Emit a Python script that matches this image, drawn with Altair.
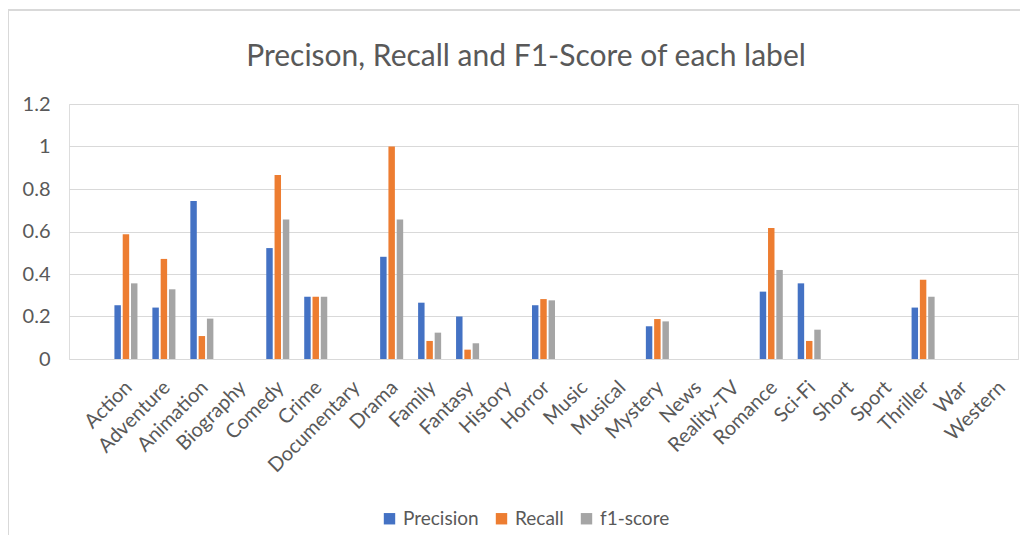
import altair as alt
import pandas as pd

categories = ["Action", "Adventure", "Animation", "Biography", "Comedy", "Crime",
              "Documentary", "Drama", "Family", "Fantasy", "History", "Horror",
              "Music", "Musical", "Mystery", "News", "Reality-TV", "Romance",
              "Sci-Fi", "Short", "Sport", "Thriller", "War", "Western"]
precision = [0.253, 0.242, 0.744, 0, 0.522, 0.293, 0, 0.481, 0.265, 0.200, 0, 0.253,
             0, 0, 0.154, 0, 0, 0.317, 0.356, 0, 0, 0.242, 0, 0]
recall = [0.587, 0.471, 0.108, 0, 0.866, 0.293, 0, 1.0, 0.085, 0.044, 0, 0.282,
          0, 0, 0.188, 0, 0, 0.616, 0.085, 0, 0, 0.373, 0, 0]
f1_score = [0.356, 0.328, 0.190, 0, 0.656, 0.293, 0, 0.656, 0.124, 0.074, 0, 0.276,
            0, 0, 0.177, 0, 0, 0.419, 0.138, 0, 0, 0.293, 0, 0]
series = ["Precision", "Recall", "f1-score"]
colors = ["#4472C4", "#ED7D31", "#A5A5A5"]
y_ticks = [0, 0.2, 0.4, 0.6, 0.8, 1.0, 1.2]
title_text = "Precison, Recall and F1-Score of each label"

rows = []
for name, vals in zip(series, [precision, recall, f1_score]):
    for c, v in zip(categories, vals):
        rows.append({"label": c, "metric": name, "value": v})
df = pd.DataFrame(rows)

FONT = "Lato"
TXT = "#595959"

bars = alt.Chart(df).mark_bar().encode(
    x=alt.X("label:N", sort=categories, title=None,
            scale=alt.Scale(paddingInner=0, paddingOuter=0.5, align=1),
            axis=alt.Axis(labelAngle=-45, labelFontSize=20, labelColor=TXT,
                          labelFont=FONT, ticks=False, domain=False,
                          labelPadding=18, labelOffset=-4, grid=False)),
    xOffset=alt.XOffset("metric:N", sort=series,
                        scale=alt.Scale(paddingInner=0.22, paddingOuter=0.9)),
    y=alt.Y("value:Q", title=None,
            scale=alt.Scale(domain=[0, 1.2], nice=False),
            axis=alt.Axis(values=y_ticks, format="~g", labelFontSize=20,
                          labelColor=TXT, labelFont=FONT, ticks=False,
                          domain=False, labelPadding=19, gridColor="#d9d9d9",
                          gridWidth=1.2)),
    color=alt.Color("metric:N", sort=series,
                    scale=alt.Scale(domain=series, range=colors),
                    legend=alt.Legend(title=None, orient="none", direction="horizontal",
                                      legendX=311, legendY=405, symbolType="square",
                                      symbolSize=130, labelFontSize=19, labelFont=FONT,
                                      labelColor=TXT, columnPadding=13, labelOffset=4,
                                      symbolStrokeWidth=0)),
)

frame = alt.Chart(alt.Data(values=[{"t": title_text}]))
top_rule = frame.mark_rule(color="#d9d9d9", strokeWidth=2).encode(
    x=alt.value(-61), x2=alt.value(960), y=alt.value(-94))
left_rule = frame.mark_rule(color="#d9d9d9", strokeWidth=2).encode(
    x=alt.value(-61), y=alt.value(-94), y2=alt.value(440))
title = frame.mark_text(fontSize=30, font=FONT, color=TXT, align="center",
                        baseline="middle").encode(
    text="t:N", x=alt.value(457), y=alt.value(-47))

chart = alt.layer(top_rule, left_rule, title, bars).properties(
    width=949, height=255,
    autosize=alt.AutoSizeParams(type="none"),
    padding={"left": 61, "top": 96, "right": 2, "bottom": 176},
).configure_view(stroke=None).configure(background="white")

chart.save("out.html", embed_options={"renderer": "svg", "actions": False})
